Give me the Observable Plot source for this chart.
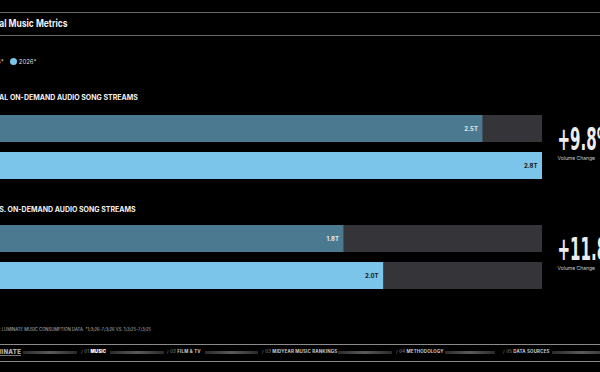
<!DOCTYPE html>
<html><head><meta charset="utf-8">
<script src="https://cdn.jsdelivr.net/npm/d3@7"></script>
<script src="https://cdn.jsdelivr.net/npm/@observablehq/plot@0.6"></script>
<style>
html,body{margin:0;padding:0;background:#000;width:600px;height:372px;overflow:hidden;position:relative;font-family:Inter,Roboto,sans-serif;color:#eee}
.abs{position:absolute;white-space:nowrap}
.hline{position:absolute;left:0;width:600px;height:1px;background:#6b6b6b}
.title{font-family:Inter,Roboto,sans-serif;font-weight:bold;font-size:10px;color:#f2f2f2;transform:scaleX(0.85);transform-origin:left center}
.legend{font-size:6px;color:#ddd;display:flex;align-items:center;gap:6px}
.legend span.it{display:flex;align-items:center;gap:2px}
.legend i{display:inline-block;width:7px;height:7px;border-radius:50%}
.sec{font-size:7px;font-weight:700;color:#f0f0f0}
.src{font-size:4.2px;color:#bbb}
.nav{font-size:4.4px;font-weight:700;color:#ccc;letter-spacing:0.2px}
.nav b{color:#fff}
.nav .num{color:#999;font-weight:400}
.nbar{position:absolute;height:3px;top:351px;background:linear-gradient(90deg,#2a2a2a,#5a5a5a 50%,#2a2a2a)}
.logo{font-family:Inter,Roboto,sans-serif;font-weight:900;font-size:6px;color:#aaa;letter-spacing:0.3px;border-bottom:1px solid #777;line-height:7px}
#chart{position:absolute;left:-28px;top:80px}
</style></head>
<body>
<div class="hline" style="top:12px"></div>
<div class="abs title" style="left:-20px;top:17px">Global Music Metrics</div>
<div class="hline" style="top:35px"></div>
<div class="abs legend" id="legend" style="left:-23px;top:58px"></div>
<div class="abs sec" id="sec0" style="left:-20px;top:93px"></div>
<div class="abs sec" id="sec1" style="left:-8px;top:205px"></div>
<div id="chart"></div>
<div class="abs src" style="left:-18px;top:327px">SOURCE: LUMINATE MUSIC CONSUMPTION DATA. *1/3/26-7/3/26 VS. 1/3/25-7/3/25</div>
<div class="hline" style="top:344px;background:#8a8a8a"></div>
<div class="hline" style="top:361px;background:#8a8a8a"></div>
<div class="abs logo" style="left:-13px;top:348px">LUMINATE</div>
<div class="nbar" style="left:23px;width:54px"></div>
<div class="abs nav" style="left:81px;top:349px"><span class="num">/ 01</span> <b>MUSIC</b></div>
<div class="nbar" style="left:110px;width:54px"></div>
<div class="abs nav" style="left:167px;top:349px"><span class="num">/ 02</span> FILM &amp; TV</div>
<div class="nbar" style="left:205px;width:53px"></div>
<div class="abs nav" style="left:262px;top:349px"><span class="num">/ 03</span> MIDYEAR MUSIC RANKINGS</div>
<div class="nbar" style="left:338px;width:54px"></div>
<div class="abs nav" style="left:396px;top:349px"><span class="num">/ 04</span> METHODOLOGY</div>
<div class="nbar" style="left:445px;width:50px"></div>
<div class="abs nav" style="left:503px;top:349px"><span class="num">/ 05</span> DATA SOURCES</div>
<div class="nbar" style="left:552px;width:60px"></div>
<script>
// ---- data ----
const groups = ["GLOBAL ON-DEMAND AUDIO SONG STREAMS", "U.S. ON-DEMAND AUDIO SONG STREAMS"];
const years = ["2025*", "2026*"];
const globalStreams = [2.5, 2.8];   // trillions
const usStreams = [1.8, 2.0];       // trillions
const volumeChange = ["+9.8%", "+11.8%"];
const trackMax = 2.8;
const yearColors = ["#4b7a90", "#7cc5ea"];
const labelColors = ["#e6e6e6", "#151515"];

const rows = [];
[globalStreams, usStreams].forEach((vals, gi) => vals.forEach((v, yi) =>
  rows.push({group: groups[gi], year: years[yi], value: v, label: v.toFixed(1) + "T"})));
const changes = groups.map((g, i) => ({group: g, change: volumeChange[i]}));

// legend + section labels
const leg = document.getElementById("legend");
years.forEach((y, i) => {
  const s = document.createElement("span"); s.className = "it";
  s.innerHTML = `<i style="background:${yearColors[i]}"></i>${y}`;
  leg.appendChild(s);
});
groups.forEach((g, i) => document.getElementById("sec" + i).textContent = g);

const chart = Plot.plot({
  width: 628, height: 220,
  marginTop: 34, marginBottom: 9, marginLeft: 14, marginRight: 58,
  style: {background: "transparent", overflow: "visible"},
  x: {domain: [0, trackMax], axis: null},
  y: {domain: years, paddingInner: 0.263, paddingOuter: 0, axis: null},
  fy: {domain: groups, paddingInner: 0.405, paddingOuter: 0, axis: null},
  color: {domain: years, range: yearColors},
  marks: [
    Plot.barX(rows, {x: () => trackMax, y: "year", fy: "group", fill: "#353539"}),
    Plot.barX(rows, {x: "value", y: "year", fy: "group", fill: "year"}),
    Plot.text(rows, {x: "value", y: "year", fy: "group", text: "label", textAnchor: "end", dx: -5,
      fill: d => labelColors[years.indexOf(d.year)], fontSize: 6, fontWeight: "bold", fontFamily: "Inter, Roboto, sans-serif"}),
    Plot.text(changes, {fy: "group", text: "change", frameAnchor: "right", textAnchor: "start", dx: 15, dy: -8,
      fill: "#ececec", fontSize: 32, fontWeight: "bold", fontFamily: "DejaVu Sans, sans-serif"}),
    Plot.text(changes, {fy: "group", text: () => "Volume Change", frameAnchor: "right", textAnchor: "start", dx: 15, dy: 10,
      fill: "#cfcfcf", fontSize: 5, fontFamily: "Inter, Roboto, sans-serif"})
  ]
});
document.getElementById("chart").appendChild(chart);
// condense the big percentage figures horizontally (start kept in place)
d3.select(chart).selectAll("text").filter(function() { return volumeChange.includes(this.textContent); })
  .each(function() {
    const len = this.getComputedTextLength();
    this.setAttribute("textLength", (len * 0.47).toFixed(1));
    this.setAttribute("lengthAdjust", "spacingAndGlyphs");
  });
</script>
</body></html>
